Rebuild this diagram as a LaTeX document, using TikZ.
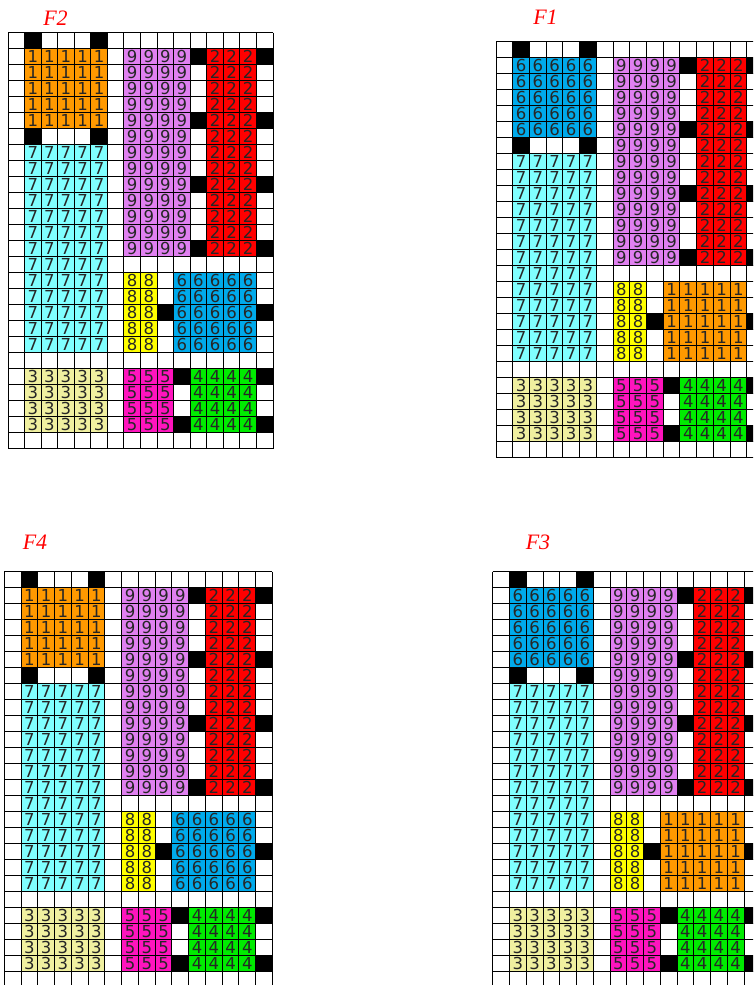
\documentclass[tikz,border=0pt]{standalone}
\usepackage{fontspec}
\usepackage{tikz}
\newfontfamily\digitfont{DejaVu Sans}
\newfontfamily\labelfont{Liberation Serif}

\definecolor{orange1}{RGB}{255,153,0}
\definecolor{violet9}{RGB}{224,128,240}
\definecolor{red2}{RGB}{255,0,0}
\definecolor{cyan7}{RGB}{128,255,255}
\definecolor{yellow8}{RGB}{255,255,0}
\definecolor{blue6}{RGB}{0,170,235}
\definecolor{pale3}{RGB}{240,240,160}
\definecolor{pink5}{RGB}{255,20,190}
\definecolor{green4}{RGB}{0,235,0}

% one block of numbered cells: column, row, width, height, colour, digit
\newcommand{\cellblock}[6]{%
  \foreach \i in {1,...,#3}{
    \foreach \j in {1,...,#4}{
      \node[cell, fill=#5] (\fl-#6-\i-\j) at ({#1+\i-.5},{#2+\j-.5}) {#6};
    }
  }
}

% one floor: name, x, y, cell width, top colour, top digit, lower colour, lower digit
\newcommand{\drawfloor}[8]{%
  \begin{scope}[shift={(#2,#3)}, x=#4pt, y=-16pt, cell/.append style={minimum width=#4pt}]
    \def\fl{#1}
    \foreach \c in {0,...,16} \draw[gridline] (\c,0) -- (\c,26);
    \foreach \r in {0,...,26} \draw[gridline] (0,\r) -- (16,\r);
    \foreach \c/\r in {1/0,5/0,1/6,5/6,11/1,11/5,11/9,11/13,15/1,15/5,15/9,15/13,
                       9/17,15/17,10/21,10/24,15/21,15/24}
      \fill[black] (\c,\r) rectangle ++(1,1);
    \cellblock{1}{1}{5}{5}{#5}{#6}
    \cellblock{7}{1}{4}{13}{violet9}{9}
    \cellblock{12}{1}{3}{13}{red2}{2}
    \cellblock{1}{7}{5}{13}{cyan7}{7}
    \cellblock{7}{15}{2}{5}{yellow8}{8}
    \cellblock{10}{15}{5}{5}{#7}{#8}
    \cellblock{1}{21}{5}{4}{pale3}{3}
    \cellblock{7}{21}{3}{4}{pink5}{5}
    \cellblock{11}{21}{4}{4}{green4}{4}
  \end{scope}
}

\begin{document}
\begin{tikzpicture}[x=1pt, y=-1pt,
    gridline/.style={line width=0.9pt, black},
    cell/.style={rectangle, draw=black, line width=0.9pt, inner sep=0pt, outer sep=0pt,
      minimum height=16pt, text=black!85, font=\digitfont\fontsize{16.5}{16.5}\selectfont},
    flabel/.style={text=red, font=\labelfont\itshape\fontsize{22}{22}\selectfont}]
    \useasboundingbox (0,0) rectangle (753,985);
    \clip (0,0) rectangle (753,985);

    \drawfloor{F2}{8}{32.7}{16.56}{orange1}{1}{blue6}{6}
    \drawfloor{F1}{496}{41.7}{16.72}{blue6}{6}{orange1}{1}
    \drawfloor{F4}{4.3}{571.5}{16.76}{orange1}{1}{blue6}{6}
    \drawfloor{F3}{492.7}{571.5}{16.76}{blue6}{6}{orange1}{1}

    \node[flabel] (lblF2) at (55.5,18.5) {F2};
    \node[flabel] (lblF1) at (545.5,17) {F1};
    \node[flabel] (lblF4) at (35,542) {F4};
    \node[flabel] (lblF3) at (538,542) {F3};
\end{tikzpicture}
\end{document}
